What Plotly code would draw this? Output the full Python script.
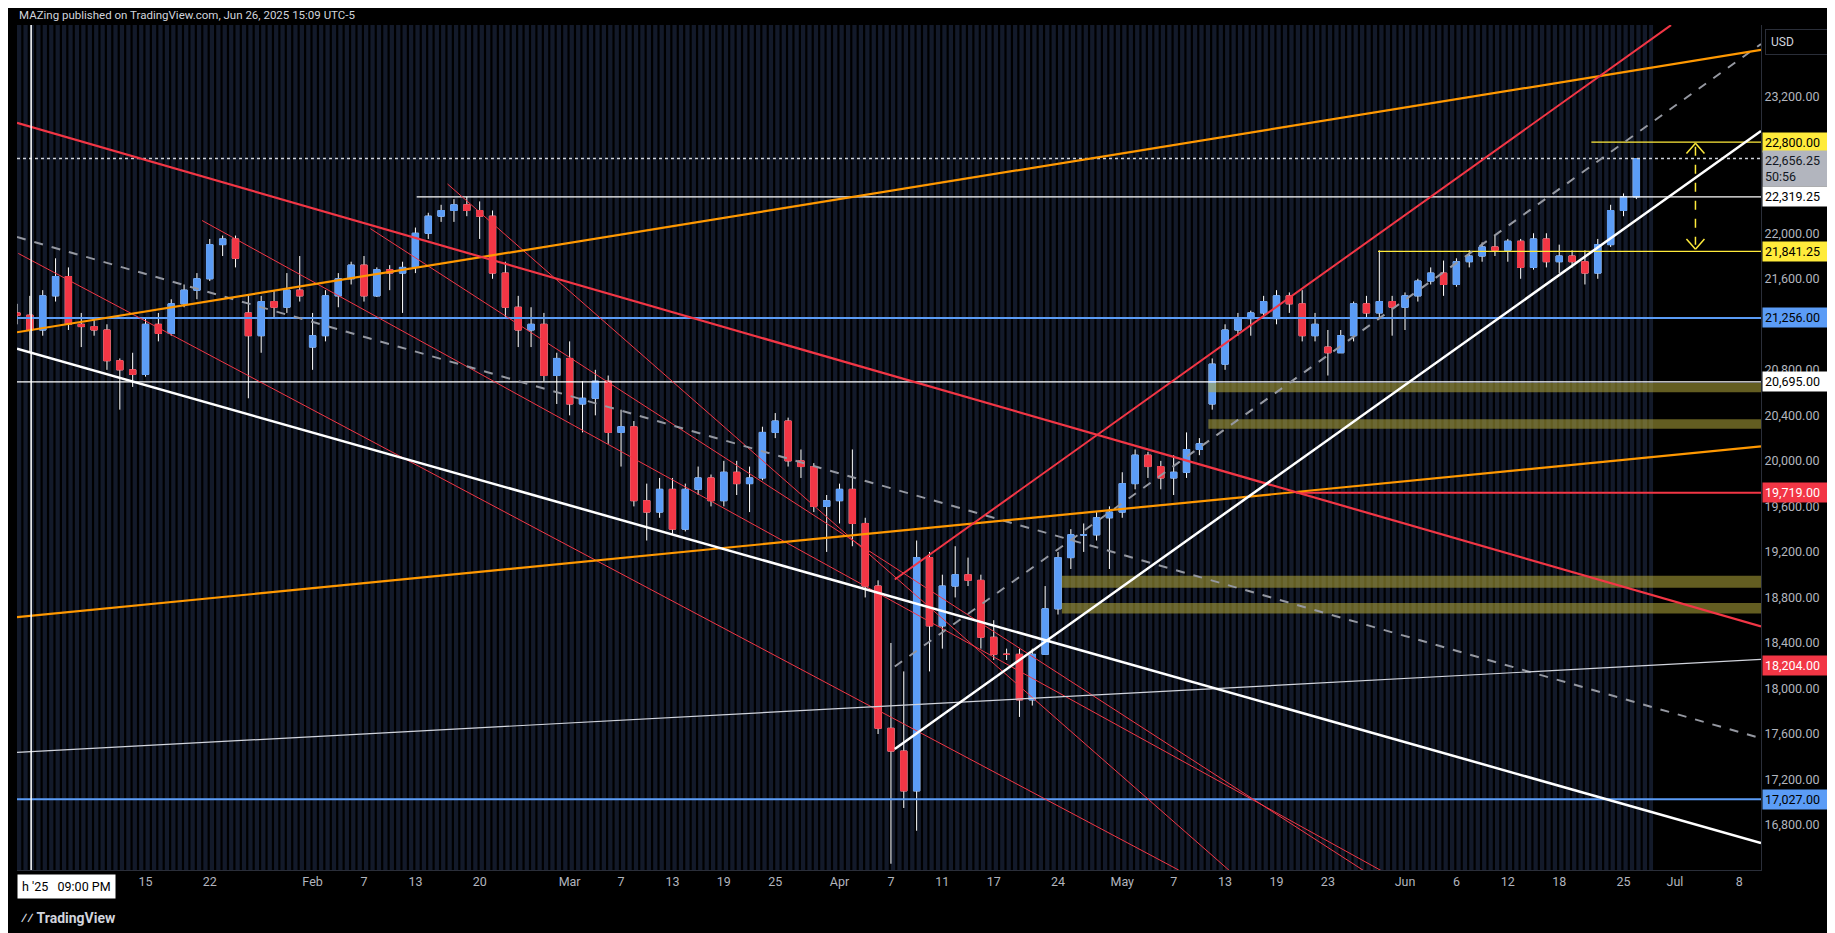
import numpy as np
import pandas as pd
import plotly.graph_objects as go

dates = pd.bdate_range("2025-01-01", "2025-06-26")

opens = [21300,21280,21150,21450,21620,21200,21180,21150,20880,20800,20760,21200,21120,21380,21500,21600,21900,21950,21300,21100,21400,21350,21500,
 21000,21100,21450,21600,21720,21450,21680,21650,21700,22000,22150,22200,22250,22200,22150,21650,21350,21150,21200,20750,
 20900,20500,20550,20700,20250,20300,19650,19550,19750,19400,19750,19850,19650,19900,19800,19850,20250,20350,20000,19950,19600,
 19650,19750,19450,18900,17650,17450,17100,19150,18550,18900,19000,18950,18450,18300,18300,17900,18300,18700,19150,19350,19350,19500,
 19550,19800,20050,19950,19850,19900,20100,20500,20850,21150,21250,21300,21250,21450,21380,21100,21000,20950,21100,21380,21300,21400,
 21350,21450,21580,21650,21550,21750,21800,21880,21850,21930,21700,21950,21750,21800,21750,21650,21900,22200,22320]
highs = [21380,21450,21500,21780,21700,21300,21250,21200,20900,20950,21250,21300,21420,21550,21650,21950,21980,21980,21450,21450,21500,21650,21800,
 21300,21500,21650,21750,21800,21700,21720,21750,22050,22180,22250,22300,22320,22280,22200,21750,21450,21350,21300,20950,
 21050,20700,20800,20750,20450,20350,19800,19850,19850,19800,19950,19880,20000,20000,19950,20300,20420,20380,20100,19980,19700,
 19800,20100,19500,18950,18400,18150,19300,19200,19000,19250,19150,19000,18600,18350,18350,18350,18900,19200,19400,19450,19550,19600,
 19900,20100,20080,20000,20050,20250,20200,20900,21200,21300,21320,21450,21500,21480,21500,21300,21150,21150,21400,21450,21850,21450,
 21480,21600,21700,21760,21780,21850,21920,21980,21950,21950,22000,22000,21900,21850,21850,21950,22250,22350,22660]
lows = [21200,20950,21100,21400,21150,21000,21100,20800,20450,20650,20740,21050,21100,21350,21420,21580,21800,21700,20550,20950,21250,21300,21400,
 20800,21050,21350,21550,21400,21440,21500,21300,21650,21950,22100,22100,22150,21950,21600,21250,21000,21000,20700,20500,
 20400,20250,20400,20150,19950,19600,19300,19500,19350,19380,19700,19600,19600,19700,19550,19830,20200,19950,19850,19550,19200,
 19450,19250,18800,17600,16460,16950,16750,18150,18350,18800,18900,18350,18250,18250,17750,17850,18300,18650,19050,19200,19300,19050,
 19500,19750,19850,19750,19700,19850,20050,20450,20800,21100,21100,21250,21200,21300,21050,21050,20750,20950,21050,21250,21250,21100,
 21150,21400,21550,21450,21530,21700,21750,21800,21750,21600,21680,21700,21650,21700,21550,21600,21880,22150,22300]
closes = [21280,21150,21450,21620,21200,21180,21150,20880,20800,20760,21200,21120,21380,21500,21600,21900,21950,21780,21100,21400,21350,21500,21450,
 21100,21450,21600,21720,21450,21680,21650,21700,22000,22150,22200,22250,22200,22150,21650,21350,21150,21200,20750,20900,
 20500,20550,20700,20250,20300,19650,19550,19750,19400,19750,19850,19650,19900,19800,19850,20250,20350,20000,19950,19600,19650,
 19750,19450,18900,17650,17450,17100,19150,18550,18900,19000,18950,18450,18300,18300,17900,18300,18700,19150,19350,19350,19500,19550,
 19800,20050,19950,19850,19900,20100,20150,20850,21150,21250,21300,21400,21450,21380,21100,21200,20950,21100,21380,21300,21400,21350,
 21450,21580,21650,21550,21750,21800,21880,21850,21930,21700,21950,21750,21800,21750,21650,21900,22200,22320,22656.25]

xtick_dates = ["2025-01-15","2025-01-22","2025-02-03","2025-02-07","2025-02-13","2025-02-20","2025-03-03","2025-03-07","2025-03-13",
 "2025-03-19","2025-03-25","2025-04-01","2025-04-07","2025-04-11","2025-04-17","2025-04-24","2025-05-01","2025-05-07","2025-05-13",
 "2025-05-19","2025-05-23","2025-06-02","2025-06-06","2025-06-12","2025-06-18","2025-06-25","2025-07-01","2025-07-08"]
xtick_text = ["15","22","Feb","7","13","20","Mar","7","13","19","25","Apr","7","11","17","24","May","7","13","19","23","Jun","6","12","18","25","Jul","8"]
ytick_vals = [16800,17200,17600,18000,18400,18800,19200,19600,20000,20400,20800,21600,22000,23200]

price_levels = [22800.00, 22656.25, 22319.25, 21841.25, 21256.00, 20695.00, 19719.00, 18204.00, 17027.00]

BLUE = "#5b9cf6"; RED = "#f23645"; ORANGE = "#ff9800"; YEL = "#ffeb3b"
YMIN, YMAX = 16405, 23830
XEND = 135.7

def idx2dt(f):
    fl = int(np.floor(f))
    base = pd.Timestamp(str(np.busday_offset("2025-01-01", fl, roll="forward")))
    return (base + pd.Timedelta(days=f - fl)).strftime("%Y-%m-%d %H:%M:%S")

o = np.array(opens); c = np.array(closes)
fig = go.Figure()
fig.add_trace(go.Candlestick(x=dates, open=opens, high=highs, low=lows, close=closes,
    increasing=dict(line=dict(color="#ffffff", width=1), fillcolor=BLUE),
    decreasing=dict(line=dict(color="#ffffff", width=1), fillcolor=RED), showlegend=False, whiskerwidth=0))
fig.add_trace(go.Candlestick(x=dates, open=opens, high=np.maximum(o, c), low=np.minimum(o, c), close=closes,
    increasing=dict(line=dict(color=BLUE, width=1), fillcolor=BLUE),
    decreasing=dict(line=dict(color=RED, width=1), fillcolor=RED), showlegend=False))

shapes = []
for i in range(len(dates)):
    for h in (0.0, 0.5):
        shapes.append(dict(type="rect", xref="x", yref="paper", x0=idx2dt(i + h + 0.33), x1=idx2dt(i + h + 0.5),
                           y0=0, y1=1, fillcolor="#000000", line_width=0, layer="below"))
shapes.append(dict(type="rect", xref="x", yref="paper", x0=idx2dt(127.3), x1=idx2dt(XEND + 1), y0=0, y1=1,
                   fillcolor="#000000", line_width=0, layer="below"))

def seg(i0, p0, i1, p1, color, width=1.5, dash="solid"):
    shapes.append(dict(type="line", xref="x", yref="y", x0=idx2dt(i0), y0=p0, x1=idx2dt(i1), y1=p1,
                       line=dict(color=color, width=width, dash=dash)))

def hline(i0, p, color, width=1.3, dash="solid"):
    seg(i0, p, XEND, p, color, width, dash)

for i0, a, b in [(92.7, 20603, 20685), (92.7, 20282, 20365), (81.3, 18886, 18990), (81.3, 18659, 18752)]:
    shapes.append(dict(type="rect", xref="x", yref="y", x0=idx2dt(i0), x1=idx2dt(XEND), y0=a, y1=b,
                       fillcolor="rgba(180,170,60,0.55)", line_width=0))

hline(0, 21256, BLUE, 2); hline(0, 20695, "#ffffff", 1.3); hline(0, 17027, BLUE, 2)
hline(31.1, 22319.25, "#ffffff", 1.3); hline(105.9, 21841.25, YEL, 1.3); hline(122.5, 22800, YEL, 1.3)
hline(99.5, 19719, RED, 2); hline(0, 22656.25, "#cfd2da", 1.5, "dot")

for a in [(0.1, 21823, 90.4, 16404), (14.4, 22112, 106.4, 16384), (27.5, 22040, 105, 16384), (33.5, 22433, 94.5, 16384)]:
    seg(*a, RED, 1)
seg(0, 21967, XEND, 17562, "#9598a1", 2, "dash")
seg(68.3, 18193, XEND, 23663, "#9598a1", 2, "dash")
seg(0, 17438, XEND, 18255, "#d1d4dc", 1.2)
seg(0, 21130, XEND, 23611, ORANGE, 2.2)
seg(0, 18627, XEND, 20127, ORANGE, 2.2)
seg(0, 22970, XEND, 18545, RED, 2.2)
seg(68.3, 18958, 128.7, 23829, RED, 2)
seg(0, 20985, XEND, 16642, "#ffffff", 2.5)
seg(68.3, 17469, XEND, 22898, "#ffffff", 2.5)
seg(130.6, 22760, 130.6, 21900, YEL, 1.5, "dash")
seg(130.6, 22790, 129.9, 22700, YEL, 1.5); seg(130.6, 22790, 131.3, 22700, YEL, 1.5)
seg(130.6, 21860, 129.9, 21950, YEL, 1.5); seg(130.6, 21860, 131.3, 21950, YEL, 1.5)
shapes.append(dict(type="line", xref="x", yref="paper", x0=idx2dt(1.1), x1=idx2dt(1.1), y0=0, y1=1,
                   line=dict(color="#ffffff", width=1.5)))

label_style = {22800.00: (YEL, "#000"), 22656.25: ("#b2b5be", "#131722"), 22319.25: ("#ffffff", "#000"),
               21841.25: (YEL, "#000"), 21256.00: (BLUE, "#000"), 20695.00: ("#ffffff", "#000"),
               19719.00: (RED, "#fff"), 18204.00: (RED, "#fff"), 17027.00: (BLUE, "#000")}
ann = []
for p in price_levels:
    bg, fc = label_style[p]
    txt = f"{p:,.2f}"
    if p == 22656.25:
        txt += "<br>50:56"
    ann.append(dict(x=1, xref="paper", y=p, yref="y", xanchor="left", yanchor="top" if p == 22656.25 else "middle",
                    yshift=9 if p == 22656.25 else 0, xshift=1,
                    text=txt, showarrow=False, bgcolor=bg, font=dict(color=fc, size=12.5, family="Roboto"),
                    borderpad=2, width=66, align="left"))
ann.append(dict(x=1, xref="paper", y=1, yref="paper", xanchor="left", yanchor="top", xshift=4, yshift=-4,
                text="USD", showarrow=False, bgcolor="#000", bordercolor="#2a2e39", borderwidth=1, borderpad=5,
                font=dict(color="#d1d4dc", size=12, family="Roboto"), width=58, align="left"))
ann.append(dict(x=0, xref="paper", y=1.0, yref="paper", xanchor="left", yanchor="bottom", yshift=1, showarrow=False,
                text="MAZing published on TradingView.com, Jun 26, 2025 15:09 UTC-5",
                font=dict(color="#d1d4dc", size=11.5, family="Roboto")))
ann.append(dict(x=0, xref="paper", y=0, yref="paper", xanchor="left", yanchor="top", yshift=-4, showarrow=False,
                text="h '25   09:00 PM", bgcolor="#ffffff", borderpad=4, font=dict(color="#000", size=12.5, family="Roboto")))
ann.append(dict(x=0, xref="paper", y=0, yref="paper", xanchor="left", yanchor="top", yshift=-38, xshift=2, showarrow=False,
                text="<b>⁄⁄ TradingView</b>", font=dict(color="#d1d4dc", size=14, family="Roboto")))

fig.update_layout(
    width=1835, height=933, paper_bgcolor="#000000", plot_bgcolor="#131a2a",
    margin=dict(l=9, r=82, t=17, b=71), shapes=shapes, annotations=ann, showlegend=False,
    xaxis=dict(type="date", rangebreaks=[dict(bounds=["sat", "mon"])], range=[idx2dt(0), idx2dt(XEND)],
               rangeslider=dict(visible=False), tickvals=xtick_dates, ticktext=xtick_text, showgrid=False,
               tickfont=dict(color="#b2b5be", size=12.5, family="Roboto"), ticks="", zeroline=False,
               showline=True, linecolor="#2a2e39"),
    yaxis=dict(side="right", range=[YMIN, YMAX], tickvals=ytick_vals, tickformat=",.2f", showgrid=False,
               tickfont=dict(color="#b2b5be", size=12.5, family="Roboto"), ticks="", zeroline=False,
               showline=True, linecolor="#2a2e39"),
)
fig.write_html("out.html")
